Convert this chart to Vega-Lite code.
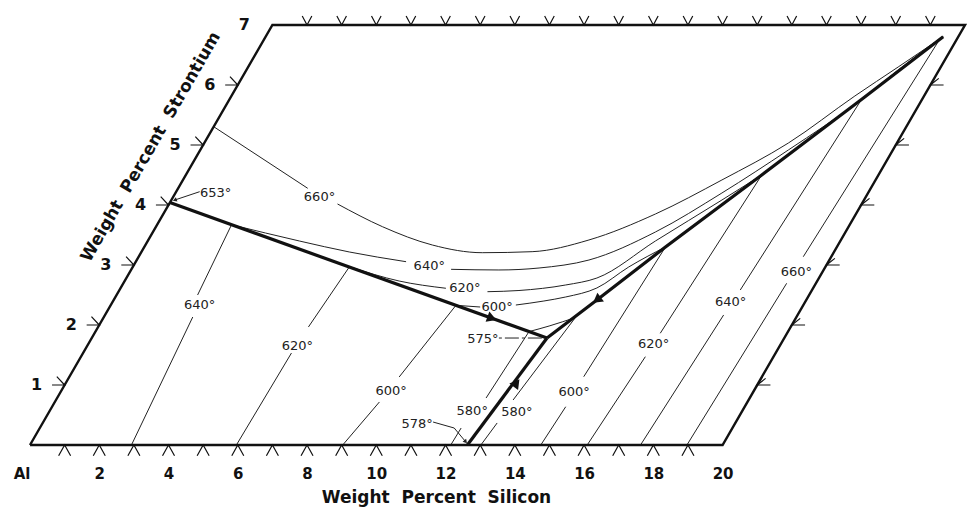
{
  "width": 935,
  "height": 420,
  "autosize": "none",
  "padding": {"left": 30, "top": 25, "right": 2, "bottom": 63},
  "background": "white",
  "config": {"view": {"stroke": null}},
  "datasets": {
    "border": [
      {"i": 0, "h": 0, "sr": 0}, {"i": 1, "h": 20, "sr": 0}, {"i": 2, "h": 27, "sr": 7},
      {"i": 3, "h": 7, "sr": 7}, {"i": 4, "h": 0, "sr": 0}
    ],
    "thick": [
      {"id": "L1", "i": 0, "h": 4.04, "sr": 4.04}, {"id": "L1", "i": 1, "h": 14.93, "sr": 1.783},
      {"id": "L2", "i": 0, "h": 14.93, "sr": 1.783}, {"id": "L2", "i": 1, "h": 16.37, "sr": 2.417},
      {"id": "L2", "i": 2, "h": 18.35, "sr": 3.30}, {"id": "L2", "i": 3, "h": 21.13, "sr": 4.50},
      {"id": "L2", "i": 4, "h": 24.01, "sr": 5.758}, {"id": "L2", "i": 5, "h": 26.37, "sr": 6.805},
      {"id": "L3", "i": 0, "h": 14.93, "sr": 1.783}, {"id": "L3", "i": 1, "h": 12.63, "sr": 0}
    ],
    "thin": [
      {"id": "640A_1", "i": 0, "h": 2.93, "sr": 0}, {"id": "640A_1", "i": 1, "h": 4.70, "sr": 2.133},
      {"id": "640A_2", "i": 0, "h": 4.84, "sr": 2.5}, {"id": "640A_2", "i": 1, "h": 5.82, "sr": 3.671},
      {"id": "620A_1", "i": 0, "h": 5.96, "sr": 0}, {"id": "620A_1", "i": 1, "h": 7.55, "sr": 1.533},
      {"id": "620A_2", "i": 0, "h": 8.04, "sr": 1.967}, {"id": "620A_2", "i": 1, "h": 9.22, "sr": 2.967},
      {"id": "600A_1", "i": 0, "h": 9.03, "sr": 0}, {"id": "600A_1", "i": 1, "h": 10.09, "sr": 0.717},
      {"id": "600A_2", "i": 0, "h": 10.66, "sr": 1.133}, {"id": "600A_2", "i": 1, "h": 12.30, "sr": 2.328},
      {"id": "580L_1", "i": 0, "h": 12.15, "sr": 0}, {"id": "580L_1", "i": 1, "h": 12.45, "sr": 0.283},
      {"id": "580L_2", "i": 0, "h": 13.17, "sr": 0.783}, {"id": "580L_2", "i": 1, "h": 14.41, "sr": 1.89},
      {"id": "580arc", "i": 0, "h": 14.41, "sr": 1.89}, {"id": "580arc", "i": 1, "h": 14.99, "sr": 1.983}, {"id": "580arc", "i": 2, "h": 15.75, "sr": 2.125},
      {"id": "580R_1", "i": 0, "h": 13.02, "sr": 0}, {"id": "580R_1", "i": 1, "h": 13.49, "sr": 0.367},
      {"id": "580R_2", "i": 0, "h": 13.95, "sr": 0.75}, {"id": "580R_2", "i": 1, "h": 15.75, "sr": 2.125},
      {"id": "600R_1", "i": 0, "h": 14.75, "sr": 0}, {"id": "600R_1", "i": 1, "h": 15.47, "sr": 0.638},
      {"id": "600R_2", "i": 0, "h": 15.99, "sr": 1.138}, {"id": "600R_2", "i": 1, "h": 18.35, "sr": 3.30},
      {"id": "620R_1", "i": 0, "h": 16.09, "sr": 0}, {"id": "620R_1", "i": 1, "h": 17.77, "sr": 1.472},
      {"id": "620R_2", "i": 0, "h": 18.20, "sr": 1.862}, {"id": "620R_2", "i": 1, "h": 21.13, "sr": 4.5},
      {"id": "640R_1", "i": 0, "h": 17.63, "sr": 0}, {"id": "640R_1", "i": 1, "h": 20.03, "sr": 2.167},
      {"id": "640R_2", "i": 0, "h": 20.51, "sr": 2.583}, {"id": "640R_2", "i": 1, "h": 24.01, "sr": 5.758},
      {"id": "660R_1", "i": 0, "h": 18.97, "sr": 0}, {"id": "660R_1", "i": 1, "h": 21.85, "sr": 2.695},
      {"id": "660R_2", "i": 0, "h": 22.33, "sr": 3.138}, {"id": "660R_2", "i": 1, "h": 26.22, "sr": 6.717},
      {"id": "660U_1", "i": 0, "h": 5.305, "sr": 5.305}, {"id": "660U_1", "i": 1, "h": 8.02, "sr": 4.278},
      {"id": "660U_2", "i": 0, "h": 8.88, "sr": 4.017}, {"id": "660U_2", "i": 1, "h": 10.18, "sr": 3.638},
      {"id": "660U_2", "i": 2, "h": 11.62, "sr": 3.333}, {"id": "660U_2", "i": 3, "h": 13.06, "sr": 3.205},
      {"id": "660U_2", "i": 4, "h": 14.50, "sr": 3.222}, {"id": "660U_2", "i": 5, "h": 16.14, "sr": 3.417},
      {"id": "660U_2", "i": 6, "h": 18.06, "sr": 3.85}, {"id": "660U_2", "i": 7, "h": 19.98, "sr": 4.417},
      {"id": "660U_2", "i": 8, "h": 21.90, "sr": 5.033}, {"id": "660U_2", "i": 9, "h": 23.82, "sr": 5.817},
      {"id": "660U_2", "i": 10, "h": 25.07, "sr": 6.3}, {"id": "660U_2", "i": 11, "h": 26.37, "sr": 6.805},
      {"id": "640U_1", "i": 0, "h": 5.82, "sr": 3.671}, {"id": "640U_1", "i": 1, "h": 7.78, "sr": 3.4},
      {"id": "640U_1", "i": 2, "h": 9.22, "sr": 3.217}, {"id": "640U_1", "i": 3, "h": 10.86, "sr": 3.055},
      {"id": "640U_2", "i": 0, "h": 12.16, "sr": 2.928}, {"id": "640U_2", "i": 1, "h": 13.54, "sr": 2.917},
      {"id": "640U_2", "i": 2, "h": 14.70, "sr": 2.95}, {"id": "640U_2", "i": 3, "h": 16.14, "sr": 3.083},
      {"id": "640U_2", "i": 4, "h": 18.06, "sr": 3.55}, {"id": "640U_2", "i": 5, "h": 19.98, "sr": 4.2},
      {"id": "640U_2", "i": 6, "h": 21.90, "sr": 4.917}, {"id": "640U_2", "i": 7, "h": 24.01, "sr": 5.758},
      {"id": "640U_2", "i": 8, "h": 25.07, "sr": 6.25}, {"id": "640U_2", "i": 9, "h": 26.37, "sr": 6.805},
      {"id": "620U_1", "i": 0, "h": 9.22, "sr": 2.973}, {"id": "620U_1", "i": 1, "h": 10.66, "sr": 2.733},
      {"id": "620U_1", "i": 2, "h": 12.01, "sr": 2.612},
      {"id": "620U_2", "i": 0, "h": 13.21, "sr": 2.555}, {"id": "620U_2", "i": 1, "h": 14.12, "sr": 2.575},
      {"id": "620U_2", "i": 2, "h": 15.47, "sr": 2.667}, {"id": "620U_2", "i": 3, "h": 16.37, "sr": 2.783},
      {"id": "620U_2", "i": 4, "h": 18.06, "sr": 3.4}, {"id": "620U_2", "i": 5, "h": 19.98, "sr": 4.083},
      {"id": "620U_2", "i": 6, "h": 21.13, "sr": 4.5},
      {"id": "600U_1", "i": 0, "h": 12.30, "sr": 2.328}, {"id": "600U_1", "i": 1, "h": 13.0, "sr": 2.3},
      {"id": "600U_2", "i": 0, "h": 14.03, "sr": 2.333}, {"id": "600U_2", "i": 1, "h": 14.84, "sr": 2.4},
      {"id": "600U_2", "i": 2, "h": 15.47, "sr": 2.467}, {"id": "600U_2", "i": 3, "h": 16.37, "sr": 2.617},
      {"id": "600U_2", "i": 4, "h": 17.29, "sr": 2.967}, {"id": "600U_2", "i": 5, "h": 18.35, "sr": 3.30}
    ],
    "leaders": [
      {"id": "l578", "i": 0, "h": 11.64, "sr": 0.383}, {"id": "l578", "i": 1, "h": 12.25, "sr": 0.283},
      {"id": "l578", "i": 2, "h": 12.58, "sr": 0.055},
      {"id": "l653", "i": 0, "h": 4.90, "sr": 4.222}, {"id": "l653", "i": 1, "h": 4.18, "sr": 4.083}
    ],
    "dash575": [
      {"i": 0, "h": 13.54, "sr": 1.783}, {"i": 1, "h": 14.89, "sr": 1.783}
    ],
    "labels": [
      {"text": "653°", "h": 5.36, "sr": 4.2},
      {"text": "660°", "h": 8.36, "sr": 4.133},
      {"text": "640°", "h": 4.90, "sr": 2.333},
      {"text": "620°", "h": 7.72, "sr": 1.65},
      {"text": "600°", "h": 10.43, "sr": 0.9},
      {"text": "640°", "h": 11.53, "sr": 2.983},
      {"text": "620°", "h": 12.56, "sr": 2.617},
      {"text": "600°", "h": 13.49, "sr": 2.3},
      {"text": "575°", "h": 13.08, "sr": 1.767},
      {"text": "580°", "h": 12.77, "sr": 0.567},
      {"text": "580°", "h": 14.06, "sr": 0.55},
      {"text": "578°", "h": 11.18, "sr": 0.35},
      {"text": "600°", "h": 15.71, "sr": 0.883},
      {"text": "620°", "h": 18.01, "sr": 1.683},
      {"text": "640°", "h": 20.23, "sr": 2.383},
      {"text": "660°", "h": 22.13, "sr": 2.883}
    ],
    "sraxis": [
      {"text": "1", "h": 1, "sr": 1}, {"text": "2", "h": 2, "sr": 2}, {"text": "3", "h": 3, "sr": 3},
      {"text": "4", "h": 4, "sr": 4}, {"text": "5", "h": 5, "sr": 5}, {"text": "6", "h": 6, "sr": 6},
      {"text": "7", "h": 7, "sr": 7}
    ],
    "ticks": [
      {"edge": "bottom", "h": 1, "sr": 0}, {"edge": "bottom", "h": 2, "sr": 0}, {"edge": "bottom", "h": 3, "sr": 0},
      {"edge": "bottom", "h": 4, "sr": 0}, {"edge": "bottom", "h": 5, "sr": 0}, {"edge": "bottom", "h": 6, "sr": 0},
      {"edge": "bottom", "h": 7, "sr": 0}, {"edge": "bottom", "h": 8, "sr": 0}, {"edge": "bottom", "h": 9, "sr": 0},
      {"edge": "bottom", "h": 10, "sr": 0}, {"edge": "bottom", "h": 11, "sr": 0}, {"edge": "bottom", "h": 12, "sr": 0},
      {"edge": "bottom", "h": 13, "sr": 0}, {"edge": "bottom", "h": 14, "sr": 0}, {"edge": "bottom", "h": 15, "sr": 0},
      {"edge": "bottom", "h": 16, "sr": 0}, {"edge": "bottom", "h": 17, "sr": 0}, {"edge": "bottom", "h": 18, "sr": 0},
      {"edge": "bottom", "h": 19, "sr": 0},
      {"edge": "top", "h": 8, "sr": 7}, {"edge": "top", "h": 9, "sr": 7}, {"edge": "top", "h": 10, "sr": 7},
      {"edge": "top", "h": 11, "sr": 7}, {"edge": "top", "h": 12, "sr": 7}, {"edge": "top", "h": 13, "sr": 7},
      {"edge": "top", "h": 14, "sr": 7}, {"edge": "top", "h": 15, "sr": 7}, {"edge": "top", "h": 16, "sr": 7},
      {"edge": "top", "h": 17, "sr": 7}, {"edge": "top", "h": 18, "sr": 7}, {"edge": "top", "h": 19, "sr": 7},
      {"edge": "top", "h": 20, "sr": 7}, {"edge": "top", "h": 21, "sr": 7}, {"edge": "top", "h": 22, "sr": 7},
      {"edge": "top", "h": 23, "sr": 7}, {"edge": "top", "h": 24, "sr": 7}, {"edge": "top", "h": 25, "sr": 7},
      {"edge": "top", "h": 26, "sr": 7},
      {"edge": "left", "h": 1, "sr": 1}, {"edge": "left", "h": 2, "sr": 2}, {"edge": "left", "h": 3, "sr": 3},
      {"edge": "left", "h": 4, "sr": 4}, {"edge": "left", "h": 5, "sr": 5}, {"edge": "left", "h": 6, "sr": 6},
      {"edge": "right", "h": 21, "sr": 1}, {"edge": "right", "h": 22, "sr": 2}, {"edge": "right", "h": 23, "sr": 3},
      {"edge": "right", "h": 24, "sr": 4}, {"edge": "right", "h": 25, "sr": 5}, {"edge": "right", "h": 26, "sr": 6}
    ]
  },
  "encoding": {
    "x": {
      "field": "h", "type": "quantitative",
      "scale": {"domain": [0, 27], "nice": false, "zero": false},
      "axis": {
        "values": [0, 2, 4, 6, 8, 10, 12, 14, 16, 18, 20],
        "labelExpr": "datum.value === 0 ? 'Al' : datum.label",
        "labelAlign": {"condition": {"test": "datum.value === 0", "value": "right"}, "value": "center"},
        "grid": false, "domain": false, "ticks": false, "tickSize": 0,
        "labelPadding": 28, "labelBaseline": "middle",
        "labelFont": "DejaVu Sans", "labelFontWeight": "bold", "labelFontSize": 15, "labelColor": "#111",
        "labelFlush": false, "labelOverlap": false,
        "title": "Weight\u00a0 Percent\u00a0 Silicon",
        "titleFont": "DejaVu Sans", "titleFontWeight": "bold", "titleFontSize": 17, "titleColor": "#111",
        "titleX": 406, "titleY": 52, "titleAlign": "center", "titleBaseline": "middle"
      }
    },
    "y": {
      "field": "sr", "type": "quantitative",
      "scale": {"domain": [0, 7], "nice": false, "zero": false},
      "axis": null
    }
  },
  "layer": [
    {
      "data": {"name": "thin"},
      "mark": {"type": "line", "stroke": "#222", "strokeWidth": 1, "interpolate": "monotone"},
      "encoding": {"detail": {"field": "id"}, "order": {"field": "i"}}
    },
    {
      "data": {"name": "leaders"},
      "mark": {"type": "line", "stroke": "#222", "strokeWidth": 1},
      "encoding": {"detail": {"field": "id"}, "order": {"field": "i"}}
    },
    {
      "data": {"name": "dash575"},
      "mark": {"type": "line", "stroke": "#222", "strokeWidth": 1, "strokeDash": [3, 3, 14, 3]},
      "encoding": {"order": {"field": "i"}}
    },
    {
      "data": {"name": "border"},
      "mark": {"type": "line", "stroke": "#111", "strokeWidth": 2.4, "strokeJoin": "miter"},
      "encoding": {"order": {"field": "i"}}
    },
    {
      "data": {"name": "thick"},
      "mark": {"type": "line", "stroke": "#111", "strokeWidth": 3.2, "strokeJoin": "round"},
      "encoding": {"detail": {"field": "id"}, "order": {"field": "i"}}
    },
    {
      "data": {"values": [{"id": "L1", "h": 13.34, "sr": 2.112}]},
      "mark": {"type": "point", "shape": "triangle-right", "filled": true, "color": "#111", "size": 120, "angle": 20, "opacity": 1}
    },
    {
      "data": {"values": [{"id": "L2", "h": 16.37, "sr": 2.417}]},
      "mark": {"type": "point", "shape": "triangle-right", "filled": true, "color": "#111", "size": 120, "angle": 143, "opacity": 1}
    },
    {
      "data": {"values": [{"id": "L3", "h": 14.05, "sr": 1.033}]},
      "mark": {"type": "point", "shape": "triangle-right", "filled": true, "color": "#111", "size": 120, "angle": 307, "opacity": 1}
    },
    {
      "data": {"values": [{"id": "p653", "h": 4.18, "sr": 4.083}]},
      "mark": {"type": "point", "shape": "triangle-right", "filled": true, "color": "#222", "size": 22, "angle": 161, "opacity": 1}
    },
    {
      "data": {"values": [{"id": "p578", "h": 12.58, "sr": 0.055}]},
      "mark": {"type": "point", "shape": "triangle-right", "filled": true, "color": "#222", "size": 22, "angle": 50, "opacity": 1}
    },
    {
      "data": {"name": "ticks"},
      "mark": {"type": "point", "filled": false, "stroke": "#111", "strokeWidth": 1.2, "size": 144, "opacity": 1},
      "encoding": {
        "shape": {
          "field": "edge", "type": "nominal", "legend": null,
          "scale": {
            "domain": ["bottom", "top", "left", "right"],
            "range": ["M -1 1.8 L 0 0 L 1 1.8", "M -0.8 -1.5 L 0 0 L 0.8 -1.5", "M -2.1 0 L 0 0 L -1.3 -1.4", "M 2.2 0 L 0 0 L 1.4 -1.1"]
          }
        }
      }
    },
    {
      "data": {"name": "labels"},
      "mark": {"type": "text", "font": "DejaVu Sans", "fontSize": 13, "color": "#222", "align": "center", "baseline": "middle"},
      "encoding": {"text": {"field": "text"}}
    },
    {
      "data": {"name": "sraxis"},
      "mark": {"type": "text", "font": "DejaVu Sans", "fontSize": 16, "fontWeight": "bold", "color": "#111", "align": "center", "baseline": "middle", "dx": -28},
      "encoding": {"text": {"field": "text"}}
    },
    {
      "data": {"values": [{"text": "Weight\u00a0 Percent\u00a0 Strontium", "h": 3.49, "sr": 4.967}]},
      "mark": {"type": "text", "font": "DejaVu Sans", "fontSize": 17, "fontWeight": "bold", "color": "#111", "align": "center", "baseline": "middle", "angle": 300},
      "encoding": {"text": {"field": "text"}}
    }
  ]
}
